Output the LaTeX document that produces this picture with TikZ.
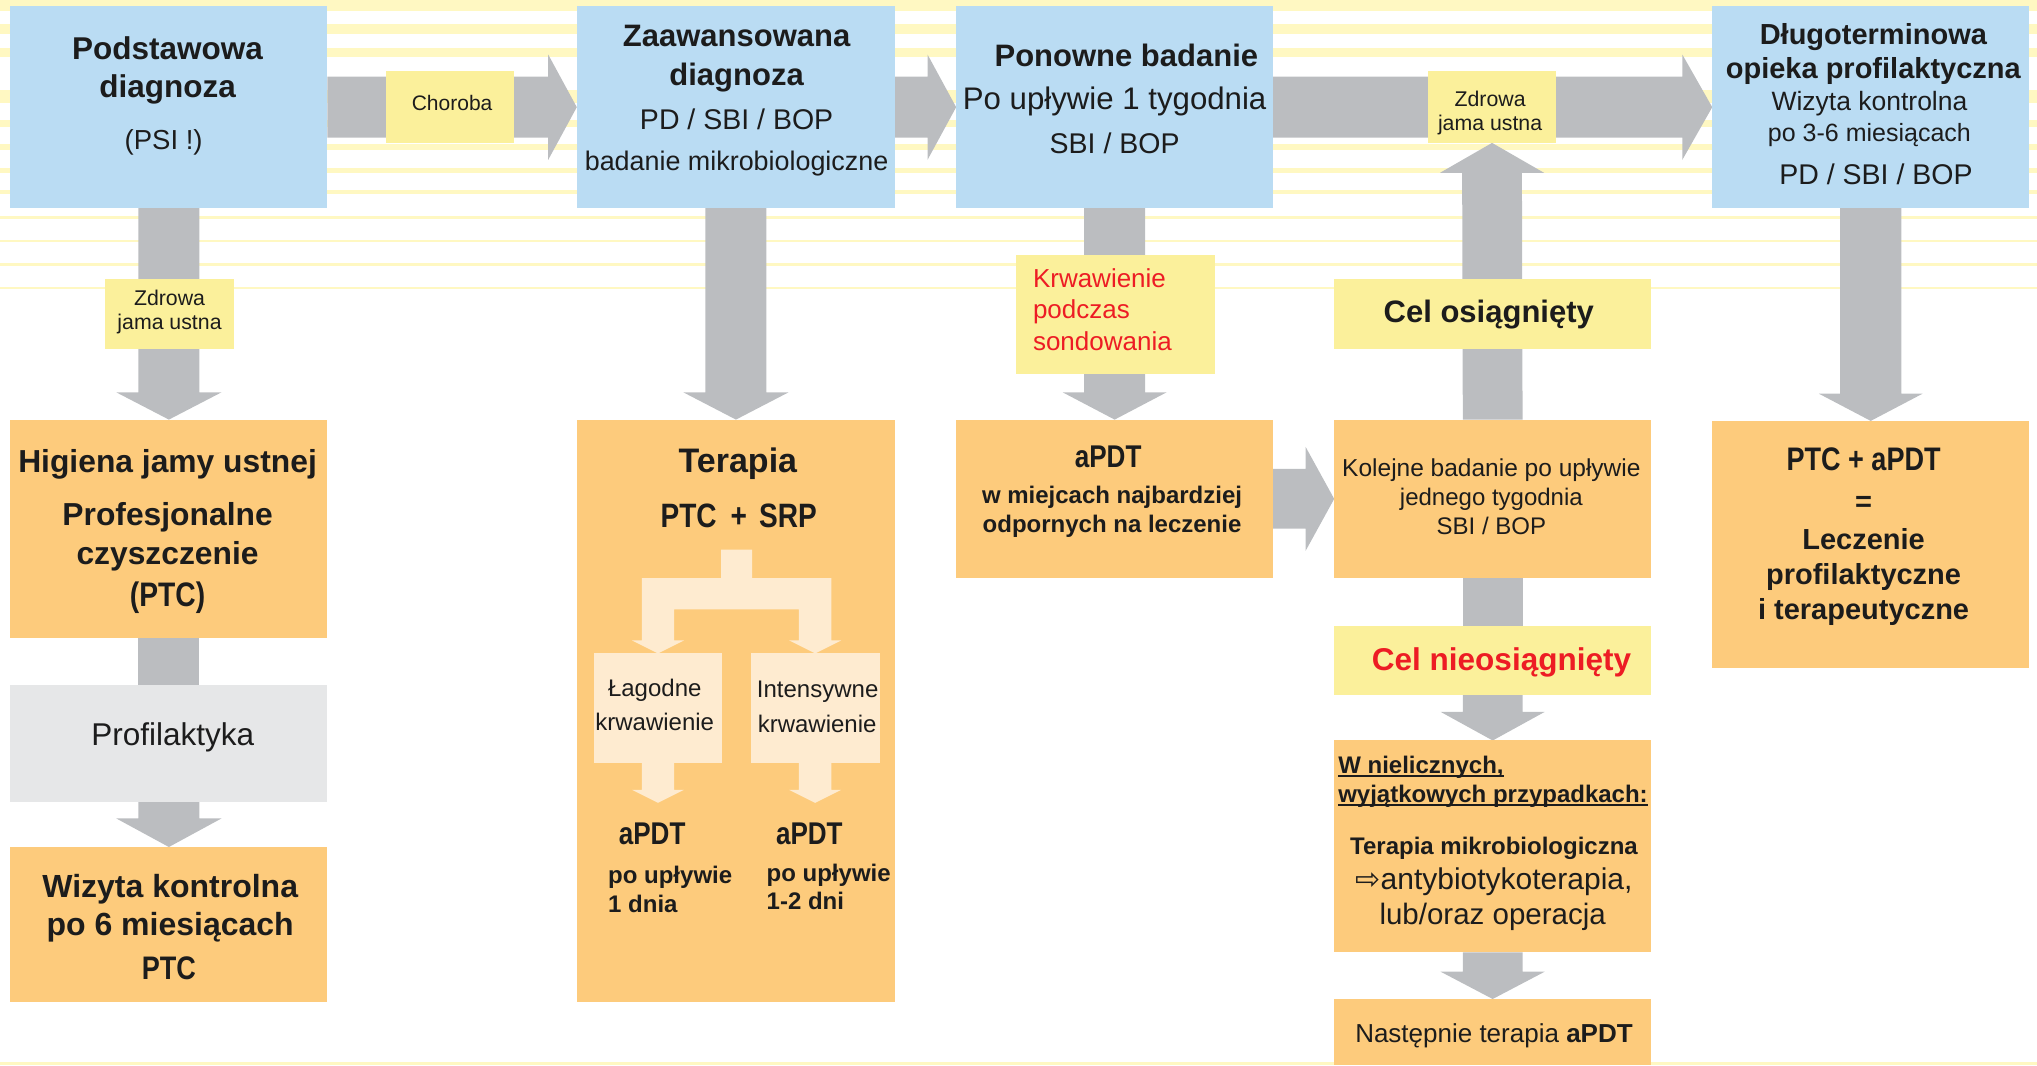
\documentclass[tikz,border=0pt]{standalone}
\usepackage{fontspec}
\setmainfont{Liberation Sans}
\newfontfamily\condf[FakeStretch=0.83]{Liberation Sans}
\newfontfamily\symf{DejaVu Sans}
\usetikzlibrary{calc,fit}

\definecolor{blueb}{HTML}{BADCF3}
\definecolor{arrowgray}{HTML}{BBBDC0}
\definecolor{orangeb}{HTML}{FDCB7C}
\definecolor{yellowl}{HTML}{FBF09B}
\definecolor{paleb}{HTML}{FEEBD0}
\definecolor{grayb}{HTML}{E6E7E8}
\definecolor{stripey}{HTML}{FFF8C2}
\definecolor{redt}{HTML}{ED1C24}
\definecolor{ink}{HTML}{1C1C1C}

\pgfdeclarelayer{back}
\pgfdeclarelayer{mid}
\pgfsetlayers{back,mid,main}

\newcommand{\fsz}[1]{\fontsize{#1}{#1}\selectfont}
\newcommand{\undl}[1]{\setbox0\hbox{#1}\rlap{\rule[-3.5pt]{\wd0}{2pt}}\box0}
% fat block arrows: [colour]{start}{tip}{shaft half}{head half}{head length}
\newcommand{\fatdown}[6][arrowgray]{%
  \fill[#1] ($(#2)+(-#4,0)$) -- ($(#3)+(-#4,-#6)$) -- ($(#3)+(-#5,-#6)$) -- (#3)
    -- ($(#3)+(#5,-#6)$) -- ($(#3)+(#4,-#6)$) -- ($(#2)+(#4,0)$) -- cycle;}
\newcommand{\fatup}[6][arrowgray]{%
  \fill[#1] ($(#2)+(-#4,0)$) -- ($(#3)+(-#4,#6)$) -- ($(#3)+(-#5,#6)$) -- (#3)
    -- ($(#3)+(#5,#6)$) -- ($(#3)+(#4,#6)$) -- ($(#2)+(#4,0)$) -- cycle;}
\newcommand{\fatright}[6][arrowgray]{%
  \fill[#1] ($(#2)+(0,-#4)$) -- ($(#3)+(-#6,-#4)$) -- ($(#3)+(-#6,-#5)$) -- (#3)
    -- ($(#3)+(-#6,#5)$) -- ($(#3)+(-#6,#4)$) -- ($(#2)+(0,#4)$) -- cycle;}

\begin{document}
\begin{tikzpicture}[x=1.2991pt, y=-1.2991pt,
    box/.style={inner sep=0pt, outer sep=0pt, draw=none},
    bluebox/.style={box, fill=blueb},
    orangebox/.style={box, fill=orangeb},
    yellowbox/.style={box, fill=yellowl},
    palebox/.style={box, fill=paleb},
    graybox/.style={box, fill=grayb},
    t/.style={anchor=base, inner sep=0pt, text=ink},
    tl/.style={t, anchor=base west}]
    \useasboundingbox (0,0) rectangle (1568,820);

    % stripes
    \begin{pgfonlayer}{back}
        \foreach \ya/\yb in {0/8.5, 18.5/26.2, 36.9/43.9, 69.3/79.3, 92.4/97.8, 110.8/115.5,
            129.3/133.2, 146.3/149.3, 166.3/168.6, 184.7/186.3, 202.4/204.8, 220.9/222.5, 817.5/820}
            \fill[stripey] (0,\ya) rectangle (1568,\yb);
    \end{pgfonlayer}

    % boxes
    \node[bluebox, fit={(8,5)(252,160)}] (b1) {};
    \node[bluebox, fit={(444,5)(689,160)}] (b2) {};
    \node[bluebox, fit={(736,5)(980,160)}] (b3) {};
    \node[bluebox, fit={(1318,5)(1562,160)}] (b4) {};
    \node[orangebox, fit={(8,323)(252,491)}] (hig) {};
    \node[graybox, fit={(8,527)(252,617)}] (prof) {};
    \node[orangebox, fit={(8,652)(252,771)}] (wiz) {};
    \node[orangebox, fit={(444,323)(689,771)}] (ter) {};
    \node[palebox, fit={(457,503)(556,587)}] (lag) {};
    \node[palebox, fit={(578,503)(677,587)}] (int) {};
    \node[orangebox, fit={(736,323)(980,445)}] (apdt) {};
    \node[yellowbox, fit={(782,196)(935,288)}] (krw) {};
    \node[orangebox, fit={(1027,323)(1271,445)}] (kol) {};
    \node[yellowbox, fit={(1027,215)(1271,269)}] (celo) {};
    \node[yellowbox, fit={(1027,482)(1271,535)}] (celn) {};
    \node[orangebox, fit={(1027,570)(1271,733)}] (wniel) {};
    \node[orangebox, fit={(1027,769)(1271,820)}] (nast) {};
    \node[orangebox, fit={(1318,324)(1562,514)}] (ptca) {};
    \node[yellowbox, fit={(297,55)(396,110)}] (chor) {};
    \node[yellowbox, fit={(81,215)(180,269)}] (zdr1) {};
    \node[yellowbox, fit={(1099,55)(1198,110)}] (zdr2) {};

    % arrows
    \begin{pgfonlayer}{mid}
        \fatright{b1.east}{b2.west}{23.5}{40.5}{22}
        \fatright{b2.east}{b3.west}{23.5}{40.5}{22}
        \fatright{b3.east}{b4.west}{23.5}{40.5}{23}
        \fatright{apdt.east}{kol.west}{23}{40}{22}
        \fatdown{b1.south}{hig.north}{23.5}{40.5}{21}
        \fill[arrowgray] ($(hig.south)+(-23.5,0)$) rectangle ($(prof.north)+(23.5,0)$);
        \fatdown{prof.south}{wiz.north}{23.5}{40.5}{22}
        \fatdown{b2.south}{ter.north}{23.5}{40.5}{21}
        \fatdown{b3.south}{apdt.north}{23.5}{40}{21}
        \fatdown{b4.south}{ptca.north}{23.5}{40}{21}
        \fatup{kol.north}{zdr2.south}{23}{40}{23}
        \fill[arrowgray] ($(kol.south)+(-23,0)$) rectangle ($(celn.north)+(23,0)$);
        \fatdown{celn.south}{wniel.north}{23}{40}{22}
        \fatdown{wniel.south}{nast.north}{23}{40}{21}
    \end{pgfonlayer}

    % pale tree in the therapy box
    \fill[paleb] (555,423) -- (579,423) -- (579,445) -- ($(int.north)+(12.5,-58)$)
        -- ($(int.north)+(12.5,-10)$) -- ($(int.north)+(20,-10)$) -- (int.north)
        -- ($(int.north)+(-20,-10)$) -- ($(int.north)+(-12.5,-10)$) -- ($(int.north)+(-12.5,-34)$)
        -- ($(lag.north)+(12.5,-34)$) -- ($(lag.north)+(12.5,-10)$) -- ($(lag.north)+(20,-10)$)
        -- (lag.north) -- ($(lag.north)+(-20,-10)$) -- ($(lag.north)+(-12.5,-10)$)
        -- ($(lag.north)+(-12.5,-58)$) -- (555,445) -- cycle;
    \coordinate (lagend) at ($(lag.south)+(0,31)$);
    \coordinate (intend) at ($(int.south)+(0,31)$);
    \fatdown[paleb]{lag.south}{lagend}{12.5}{20}{10}
    \fatdown[paleb]{int.south}{intend}{12.5}{20}{10}

    % column 1
    \node[t, font=\bfseries\fsz{31.5}] (n1a) at (129,45.7) {Podstawowa};
    \node[t, font=\bfseries\fsz{31.5}] (n1b) at (129,74.9) {diagnoza};
    \node[t, font=\fsz{27.5}] (n1c) at (126,115) {(PSI !)};
    \node[t, font=\fsz{21}] (tch) at (348,85.4) {Choroba};
    \node[t, font=\fsz{21.3}] (tz1a) at (130.5,234.8) {Zdrowa};
    \node[t, font=\fsz{21.3}] (tz1b) at (130.5,253.5) {jama ustna};
    \node[t, font=\bfseries\fsz{31.8}] (h1) at (129,363.4) {Higiena jamy ustnej};
    \node[t, font=\bfseries\fsz{31.8}] (h2) at (129,404.5) {Profesjonalne};
    \node[t, font=\bfseries\fsz{31.8}] (h3) at (129,434.5) {czyszczenie};
    \node[t, font=\condf\bfseries\fsz{34}] (h4) at (129,466.9) {(PTC)};
    \node[t, font=\fsz{31.5}] (p1) at (133,573.9) {Profilaktyka};
    \node[t, font=\bfseries\fsz{32}] (w1) at (131,690.5) {Wizyta kontrolna};
    \node[t, font=\bfseries\fsz{32}] (w2) at (131,719.9) {po 6 miesiącach};
    \node[t, font=\condf\bfseries\fsz{32.6}] (w3) at (130,754.1) {PTC};

    % column 2
    \node[t, font=\bfseries\fsz{31}] (z1) at (567,35.9) {Zaawansowana};
    \node[t, font=\bfseries\fsz{31}] (z2) at (567,66.2) {diagnoza};
    \node[t, font=\fsz{28.5}] (z3) at (567,99.6) {PD / SBI / BOP};
    \node[t, font=\fsz{26.9}] (z4) at (567,130.9) {badanie mikrobiologiczne};
    \node[t, font=\bfseries\fsz{34}] (te1) at (568,363.4) {Terapia};
    \node[t, font=\condf\bfseries\fsz{33.8}] (te2) at (568.6,406.4) {PTC\hspace{14pt}+\hspace{12pt}SRP};
    \node[t, font=\fsz{24}] (l1) at (504,536.4) {Łagodne};
    \node[t, font=\fsz{24}] (l2) at (504,562.6) {krwawienie};
    \node[t, font=\fsz{24}] (i1) at (629.4,537) {Intensywne};
    \node[t, font=\fsz{24}] (i2) at (629,563.9) {krwawienie};
    \node[t, font=\condf\bfseries\fsz{31.4}] (a1) at (502,650) {aPDT};
    \node[t, font=\condf\bfseries\fsz{31.4}] (a2) at (623,650) {aPDT};
    \node[tl, font=\bfseries\fsz{24}] (a1b) at (468,680) {po upływie};
    \node[tl, font=\bfseries\fsz{24}] (a1c) at (468,702.3) {1 dnia};
    \node[tl, font=\bfseries\fsz{24}] (a2b) at (590,678.4) {po upływie};
    \node[tl, font=\bfseries\fsz{24}] (a2c) at (590,699.8) {1-2 dni};

    % column 3
    \node[t, font=\bfseries\fsz{31}] (pb1) at (867,51.3) {Ponowne badanie};
    \node[t, font=\fsz{31.2}] (pb2) at (858,84.2) {Po upływie 1 tygodnia};
    \node[t, font=\fsz{28.5}] (pb3) at (858,118) {SBI / BOP};
    \node[tl, font=\fsz{26}, text=redt] (kr1) at (795,221.2) {Krwawienie};
    \node[tl, font=\fsz{26}, text=redt] (kr2) at (795,245) {podczas};
    \node[tl, font=\fsz{26}, text=redt] (kr3) at (795,270) {sondowania};
    \node[t, font=\condf\bfseries\fsz{31.4}] (ap1) at (853,359.5) {aPDT};
    \node[t, font=\bfseries\fsz{24}] (ap2) at (856,387.9) {w miejcach najbardziej};
    \node[t, font=\bfseries\fsz{24}] (ap3) at (856,410) {odpornych na leczenie};

    % column 4
    \node[t, font=\fsz{21.3}] (tz2a) at (1147,81.6) {Zdrowa};
    \node[t, font=\fsz{21.3}] (tz2b) at (1147,100.6) {jama ustna};
    \node[t, font=\bfseries\fsz{31}] (co1) at (1146,248.4) {Cel osiągnięty};
    \node[t, font=\fsz{24.5}] (k1) at (1148,366.6) {Kolejne badanie po upływie};
    \node[t, font=\fsz{24}] (k2) at (1148,388.9) {jednego tygodnia};
    \node[t, font=\fsz{24}] (k3) at (1148,411.1) {SBI / BOP};
    \node[t, font=\bfseries\fsz{31.5}, text=redt] (cn1) at (1155.8,516.2) {Cel nieosiągnięty};
    \node[tl, font=\bfseries\fsz{24}] (wn1) at (1030,595.2) {\undl{W nielicznych,}};
    \node[tl, font=\bfseries\fsz{24}] (wn2) at (1030,617.4) {\undl{wyjątkowych przypadkach:}};
    \node[t, font=\bfseries\fsz{24}] (wn3) at (1150,657.8) {Terapia mikrobiologiczna};
    \node[t, font=\fsz{30}] (wn4) at (1150,685) {{\symf\fsz{30}⇨}antybiotykoterapia,};
    \node[t, font=\fsz{29.5}] (wn5) at (1149,711.7) {lub/oraz operacja};
    \node[t, font=\fsz{26}] (ns1) at (1150,802.5) {Następnie terapia \textbf{aPDT}};

    % column 5
    \node[t, font=\bfseries\fsz{29}] (d1) at (1442,34.6) {Długoterminowa};
    \node[t, font=\bfseries\fsz{29}] (d2) at (1442,60.3) {opieka profilaktyczna};
    \node[t, font=\fsz{26.5}] (d3) at (1439,84.7) {Wizyta kontrolna};
    \node[t, font=\fsz{25}] (d4) at (1439,109) {po 3-6 miesiącach};
    \node[t, font=\fsz{28.5}] (d5) at (1444,142.4) {PD / SBI / BOP};
    \node[t, font=\condf\bfseries\fsz{32.6}] (pa1) at (1434.5,361.8) {PTC + aPDT};
    \node[t, font=\bfseries\fsz{29}] (pa2) at (1434.5,394) {=};
    \node[t, font=\bfseries\fsz{29}] (pa3) at (1434.5,422.8) {Leczenie};
    \node[t, font=\bfseries\fsz{29}] (pa4) at (1434.5,450) {profilaktyczne};
    \node[t, font=\bfseries\fsz{29}] (pa5) at (1434.5,477) {i terapeutyczne};
\end{tikzpicture}
\end{document}
